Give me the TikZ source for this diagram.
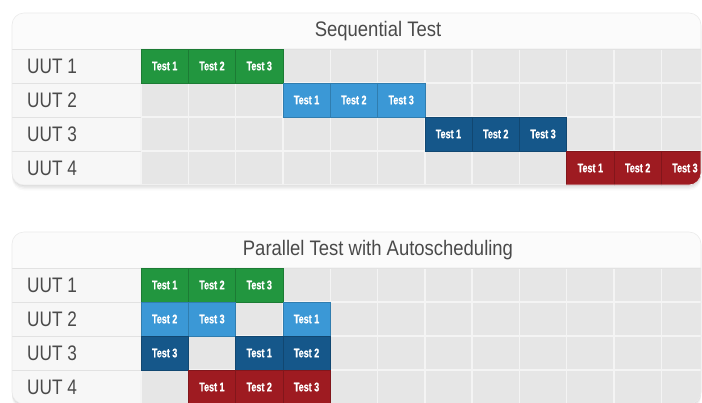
\documentclass[tikz,border=0pt]{standalone}
\usepackage{fontspec}
\setmainfont{Liberation Sans}
\newfontfamily\titlefont[FakeStretch=0.88]{Liberation Sans}
\newfontfamily\uutfont[FakeStretch=0.82]{Liberation Sans}
\newfontfamily\cellfont[FakeStretch=0.72, FakeBold=0.8]{Liberation Sans Bold}

\definecolor{tgreen}{HTML}{22963F}
\definecolor{tlblue}{HTML}{3B98D6}
\definecolor{tdblue}{HTML}{15578A}
\definecolor{tred}{HTML}{9E1B21}
\definecolor{cellgray}{HTML}{E6E6E6}
\definecolor{gridline}{HTML}{F4F4F4}
\definecolor{labelbg}{HTML}{F7F7F7}
\definecolor{headbg}{HTML}{FBFBFB}
\definecolor{sepline}{HTML}{E2E2E2}
\definecolor{inktext}{HTML}{4A4A4A}

% grid geometry (units are pt, y grows downwards)
\def\gx{141}   % left edge of the time grid
\def\cw{47.3}  % cell width
\def\rh{34}    % row height
\def\hh{36}    % header height

\tikzset{
  paneltitle/.style={font=\titlefont\fontsize{21}{24}\selectfont, text=inktext, inner sep=0pt},
  uutlabel/.style={font=\uutfont\fontsize{21}{24}\selectfont, text=inktext, inner sep=0pt, anchor=base west},
  graycell/.style={fill=cellgray, draw=gridline, line width=1.4pt, minimum width=\cw pt, minimum height=\rh pt, inner sep=0pt},
  testcell/.style={minimum width=\cw pt, minimum height=\rh pt, inner sep=0pt, line width=0.6pt,
    text=white, font=\cellfont\fontsize{12.5}{13}\selectfont},
  panelbox/.style={rounded corners=12pt},
}

% #1 name, #2 colour, #3 row, #4 column, #5 text
\newcommand\testcell[5]{%
  \node[testcell, fill=#2, draw=#2!82!black] (#1) at ({\gx+\cw*(#4-0.5)},{\hh+\rh*(#3-0.5)}) {#5};}

% #1 prefix, #2 title
\newcommand\chartpanel[2]{%
  % soft shadow under the panel
  \foreach \d/\o in {1/0.05,2.5/0.04,4/0.03,5.5/0.02}
    \fill[black, opacity=\o, panelbox] (12,\d) rectangle (701,172+\d);
  \begin{scope}
    \clip[panelbox] (12,0) rectangle (701,172);
    \fill[headbg] (12,0) rectangle (701,\hh);
    \fill[labelbg] (12,\hh) rectangle (\gx,172);
    \foreach \r in {1,...,4}
      \foreach \c in {1,...,12}
        \node[graycell] (#1-g-\r-\c) at ({\gx+\cw*(\c-0.5)},{\hh+\rh*(\r-0.5)}) {};
    \foreach \r in {1,...,3}
      \draw[sepline, line width=0.8pt] (12,{\hh+\rh*\r}) -- (\gx,{\hh+\rh*\r});
    \draw[sepline, line width=1pt] (12,\hh) -- (701,\hh);
    \foreach \r in {1,...,4}
      \node[uutlabel] (#1-uut-\r) at (27,{\hh+\rh*(\r-0.5)+7.6}) {UUT \r};
    \node[paneltitle] (#1-title) at (378,18.5) {#2};
    \csname #1cells\endcsname
  \end{scope}
  \draw[sepline!70!white, line width=0.6pt, panelbox] (12,0) rectangle (701,172);
}

\newcommand\seqcells{%
  \testcell{seq-1-1}{tgreen}{1}{1}{Test 1}
  \testcell{seq-1-2}{tgreen}{1}{2}{Test 2}
  \testcell{seq-1-3}{tgreen}{1}{3}{Test 3}
  \testcell{seq-2-1}{tlblue}{2}{4}{Test 1}
  \testcell{seq-2-2}{tlblue}{2}{5}{Test 2}
  \testcell{seq-2-3}{tlblue}{2}{6}{Test 3}
  \testcell{seq-3-1}{tdblue}{3}{7}{Test 1}
  \testcell{seq-3-2}{tdblue}{3}{8}{Test 2}
  \testcell{seq-3-3}{tdblue}{3}{9}{Test 3}
  \testcell{seq-4-1}{tred}{4}{10}{Test 1}
  \testcell{seq-4-2}{tred}{4}{11}{Test 2}
  \testcell{seq-4-3}{tred}{4}{12}{Test 3}
}

\newcommand\parcells{%
  \testcell{par-1-1}{tgreen}{1}{1}{Test 1}
  \testcell{par-1-2}{tgreen}{1}{2}{Test 2}
  \testcell{par-1-3}{tgreen}{1}{3}{Test 3}
  \testcell{par-2-2}{tlblue}{2}{1}{Test 2}
  \testcell{par-2-3}{tlblue}{2}{2}{Test 3}
  \testcell{par-2-1}{tlblue}{2}{4}{Test 1}
  \testcell{par-3-3}{tdblue}{3}{1}{Test 3}
  \testcell{par-3-1}{tdblue}{3}{3}{Test 1}
  \testcell{par-3-2}{tdblue}{3}{4}{Test 2}
  \testcell{par-4-1}{tred}{4}{2}{Test 1}
  \testcell{par-4-2}{tred}{4}{3}{Test 2}
  \testcell{par-4-3}{tred}{4}{4}{Test 3}
}

\begin{document}
\begin{tikzpicture}[x=1pt, y=-1pt]
  \useasboundingbox[fill=white] (0,0) rectangle (702,402);
  \begin{scope}[shift={(0,13)}]
    \chartpanel{seq}{Sequential Test}
  \end{scope}
  \begin{scope}[shift={(0,232)}]
    \chartpanel{par}{Parallel Test with Autoscheduling}
  \end{scope}
\end{tikzpicture}
\end{document}
